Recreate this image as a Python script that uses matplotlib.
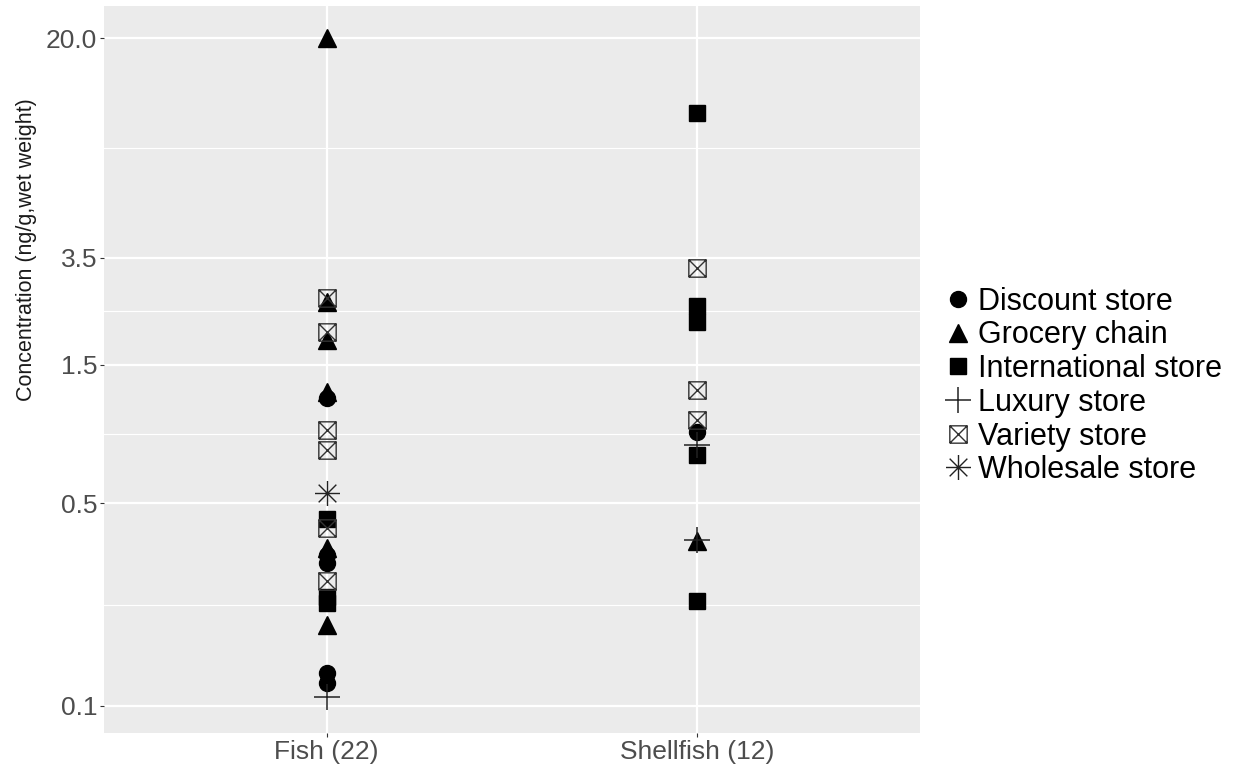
import matplotlib.pyplot as plt
from matplotlib.path import Path
from matplotlib.lines import Line2D
import numpy as np

plt.rcParams['font.family'] = ['Liberation Sans', 'DejaVu Sans']

groups = ['Fish (22)', 'Shellfish (12)']
stores = ['Discount store', 'Grocery chain', 'International store',
          'Luxury store', 'Variety store', 'Wholesale store']

# concentrations per store type (ng/g wet weight)
fish_discount = [1.15, 0.33, 0.31, 0.13, 0.12]
fish_grocery = [20.0, 2.47, 1.82, 1.21, 0.35, 0.19]
fish_international = [0.44, 0.237, 0.226]
fish_luxury = [0.107]
fish_variety = [2.54, 1.94, 0.89, 0.76, 0.41, 0.27]
fish_wholesale = [0.54]

shell_discount = [0.88]
shell_grocery = [0.37]
shell_international = [11.0, 2.39, 2.10, 0.73, 0.23]
shell_luxury = [0.79, 0.372]
shell_variety = [3.23, 1.23, 0.97]
shell_wholesale = []

fish = [fish_discount, fish_grocery, fish_international,
        fish_luxury, fish_variety, fish_wholesale]
shellfish = [shell_discount, shell_grocery, shell_international,
             shell_luxury, shell_variety, shell_wholesale]

yticks = [0.1, 0.5, 1.5, 3.5, 20.0]
ytick_labels = ['0.1', '0.5', '1.5', '3.5', '20.0']

# square with an X through it
M, L = Path.MOVETO, Path.LINETO
box_x = Path([(-1, -1), (1, -1), (1, 1), (-1, 1), (-1, -1),
              (-1, -1), (1, 1), (-1, 1), (1, -1)],
             [M, L, L, L, L, M, L, M, L])
d = 0.7071
star = Path([(0, -1), (0, 1), (-1, 0), (1, 0),
             (-d, -d), (d, d), (-d, d), (d, -d)],
            [M, L, M, L, M, L, M, L])

styles = [
    dict(marker='o', markersize=11.5, color='black', linestyle='none'),
    dict(marker='^', markersize=13, color='black', linestyle='none'),
    dict(marker='s', markersize=12, color='black', linestyle='none'),
    dict(marker='+', markersize=19, color='#222222', markeredgewidth=1.1, linestyle='none'),
    dict(marker=box_x, markersize=12.5, markerfacecolor='none', markeredgecolor='#333333',
         markeredgewidth=1.0, linestyle='none'),
    dict(marker=star, markersize=18, markeredgecolor='#222222', markeredgewidth=1.0,
         linestyle='none'),
]

fig = plt.figure(figsize=(12.39, 7.71), dpi=100)
ax = fig.add_axes([104 / 1239, 1 - 733 / 771, 816 / 1239, 727 / 771])
ax.set_facecolor('#EBEBEB')

for xi, data in enumerate([fish, shellfish]):
    for vals, st in zip(data, styles):
        if len(vals):
            ax.plot(np.full(len(vals), xi + 1), vals, **st)

ax.set_yscale('log')
ax.set_ylim(0.0807, 25.8)
ax.set_xlim(0.4, 2.6)
ax.set_yticks(yticks)
ax.set_yticklabels(ytick_labels)
ax.set_yticks([np.sqrt(a * b) for a, b in zip(yticks[:-1], yticks[1:])], minor=True)
ax.yaxis.set_minor_formatter(plt.NullFormatter())
ax.set_xticks([1, 2])
ax.set_xticklabels(groups)

ax.grid(True, which='major', color='white', linewidth=1.6)
ax.grid(True, which='minor', axis='y', color='white', linewidth=0.8)
ax.set_axisbelow(True)
for s in ax.spines.values():
    s.set_visible(False)
ax.tick_params(which='major', length=3, width=0.8, color='#333333',
               labelcolor='#4D4D4D', labelsize=19, pad=2)
ax.tick_params(which='minor', length=0)

fig.text(27 / 1239, 1 - 250 / 771, 'Concentration (ng/g,wet weight)', rotation=90,
         ha='center', va='center', fontsize=15.5, color='#1A1A1A')

handles = [Line2D([], [], **st) for st in styles]
leg = ax.legend(handles, stores, loc='center left', bbox_to_anchor=(943 / 1239, 1 - 386 / 771),
                bbox_transform=fig.transFigure, frameon=False, fontsize=22,
                handlelength=1.0, handletextpad=0.15, labelspacing=0.12,
                borderpad=0, borderaxespad=0)

fig.savefig('out.png', dpi=100)
